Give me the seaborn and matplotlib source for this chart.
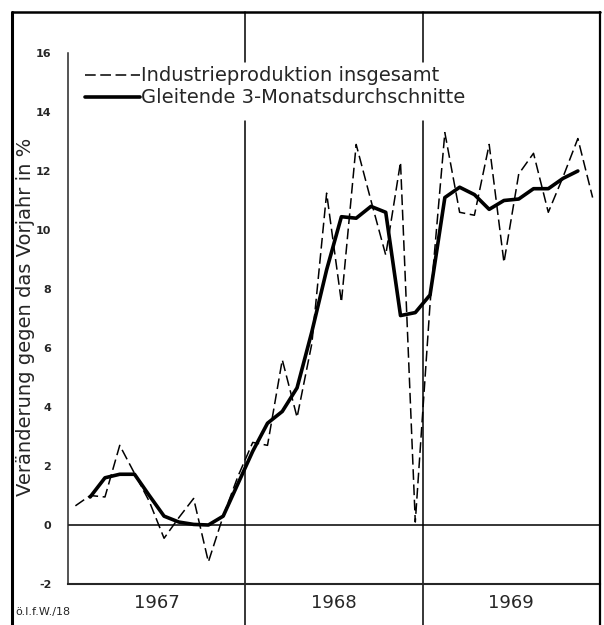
import numpy as np
import pandas as pd
import matplotlib
matplotlib.use("Agg")
import matplotlib.pyplot as plt
from matplotlib.lines import Line2D
import seaborn as sns

# --- Daten (Veränderung gegen das Vorjahr in %) ---
jahre = ["1967", "1968", "1969"]

industrie_1967 = [0.65, 1.0, 0.95, 2.7, 1.75, 0.8, -0.45, 0.25, 0.9, -1.25, 0.3, 1.65]
industrie_1968 = [2.8, 2.7, 5.6, 3.65, 6.15, 11.25, 7.55, 12.9, 11.0, 9.15, 12.3, 0.1]
industrie_1969 = [7.5, 13.3, 10.6, 10.5, 12.9, 8.9, 11.9, 12.6, 10.6, 11.8, 13.1, 11.1]

gleitend_1967 = [np.nan, 0.95, 1.6, 1.72, 1.72, 1.0, 0.3, 0.1, 0.02, 0.0, 0.3, 1.4]
gleitend_1968 = [2.5, 3.45, 3.85, 4.65, 6.55, 8.65, 10.45, 10.4, 10.8, 10.6, 7.1, 7.2]
gleitend_1969 = [7.8, 11.1, 11.45, 11.2, 10.7, 11.0, 11.05, 11.4, 11.4, 11.75, 12.0, np.nan]

label_industrie = "Industrieproduktion insgesamt"
label_gleitend = "Gleitende 3-Monatsdurchschnitte"

# Monatsmitte als x-Position
monat = np.arange(36) + 0.5
df = pd.DataFrame({
    "monat": monat,
    "industrie": industrie_1967 + industrie_1968 + industrie_1969,
    "gleitend": gleitend_1967 + gleitend_1968 + gleitend_1969,
})

sns.set_style("white")
plt.rcParams["font.family"] = ["DejaVu Sans"]

fig = plt.figure(figsize=(6.04, 6.25), dpi=100)
ax = fig.add_axes([0.1126, 0.0656, 0.8808, 0.8496])

sns.lineplot(data=df, x="monat", y="industrie", ax=ax, color="black", lw=1.1, ls="--")
ax.lines[-1].set_dashes((7, 3))
sns.lineplot(data=df.dropna(), x="monat", y="gleitend", ax=ax, color="black", lw=2.6)

ax.set_xlim(0, 36)
ax.set_ylim(-2, 16)
ax.axhline(0, color="black", lw=1.1)

# Jahresgrenzen (mit Lücke hinter der Legende)
trans = ax.get_xaxis_transform()
for xb in [12, 24]:
    ax.plot([xb, xb], [1.078, (15.7 + 2) / 18], color="black", lw=1.1, transform=trans, clip_on=False)
    ax.plot([xb, xb], [(13.7 + 2) / 18, -0.08], color="black", lw=1.1, transform=trans, clip_on=False)

# Achsen
for s in ["top", "right"]:
    ax.spines[s].set_visible(False)
ax.spines["left"].set_linewidth(1.1)
ax.spines["bottom"].set_linewidth(1.5)
ax.set_xlabel("")
ax.set_ylabel("")

ax.set_yticks(np.arange(-2, 17, 2))
ax.set_yticks(np.arange(-1, 16, 2), minor=True)
ax.set_yticklabels([str(v) for v in range(-2, 17, 2)], fontsize=8, fontweight="bold")
ax.tick_params(axis="y", which="both", direction="in", length=6, width=1.1, pad=12)

kurz = [m for m in range(1, 36) if m % 6 != 0]
ax.set_xticks([6, 18, 30])
ax.set_xticks(kurz, minor=True)
ax.set_xticklabels([])
ax.tick_params(axis="x", which="major", direction="in", length=9, width=1.1)
ax.tick_params(axis="x", which="minor", direction="in", length=4, width=1.1)

for i, j in enumerate(jahre):
    ax.text(6 + 12 * i, -0.036, j, transform=trans, ha="center", va="center", fontsize=13)

# Legende
ax.plot([1.15, 4.9], [15.25, 15.25], color="black", lw=1.1, dashes=(7, 3))
ax.plot([1.15, 4.9], [14.5, 14.5], color="black", lw=2.6)
ax.text(4.95, 15.25, label_industrie, ha="left", va="center", fontsize=14)
ax.text(4.95, 14.5, label_gleitend, ha="left", va="center", fontsize=14)

fig.text(0.043, 0.493, "Veränderung gegen das Vorjahr in %", rotation=90,
         ha="center", va="center", fontsize=14)
fig.text(0.025, 0.02, "ö.I.f.W./18", ha="left", va="center", fontsize=8)

# Rahmen
fig.add_artist(Line2D([0.02, 0.02], [0, 0.981], color="black", lw=2.2))
fig.add_artist(Line2D([0.02, 0.9934], [0.981, 0.981], color="black", lw=1.8))
fig.add_artist(Line2D([0.9934, 0.9934], [0, 0.981], color="black", lw=1.6))

fig.savefig("out.png", dpi=100)
